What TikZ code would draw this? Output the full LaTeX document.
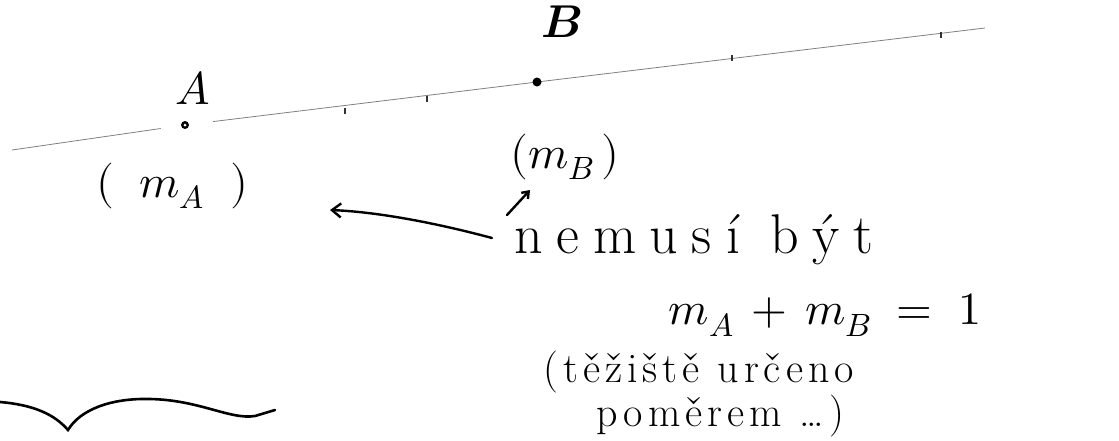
\documentclass[tikz,border=0pt]{standalone}
\usepackage{fontspec}
\usepackage{unicode-math}
\setmathfont{Latin Modern Math}
\newfontfamily\wideface[LetterSpace=25]{Latin Modern Roman}
\newfontfamily\spacedface[LetterSpace=12]{Latin Modern Roman}
\usetikzlibrary{arrows.meta,calc}
\tikzset{
  hand/.style={font=\fontsize{46}{50}\selectfont, inner sep=0pt},
  handwide/.style={font=\wideface\fontsize{56}{60}\selectfont, inner sep=0pt},
  handsmall/.style={font=\spacedface\fontsize{42}{46}\selectfont, inner sep=0pt},
  axisline/.style={draw=black!50, line width=0.8pt},
  tickmark/.style={draw=black!80, line width=1.2pt},
  pen/.style={draw=black, line width=2.4pt, line cap=round},
}
\begin{document}
\begin{tikzpicture}[x=1pt,y=-1pt]
\useasboundingbox (0,0) rectangle (1119,440);
% points on the line
\coordinate (lineL) at (12,150);
\coordinate (dotA) at (185,125);
\coordinate (dotB) at (537,82);
\coordinate (lineR) at (985,28);
\draw[axisline] (lineL) -- ($(lineL)!0.86!(dotA)$);
\draw[axisline] ($(dotA)!0.08!(dotB)$) -- (dotB) -- (lineR);
\fill (dotA) circle (4pt);
\fill[white] (dotA) circle (1.5pt);
\fill (dotB) circle (4.5pt);
% ticks
\foreach \tx/\ty in {345/111, 427/99, 732/58, 941/35}
  \draw[tickmark] (\tx,\ty-3) -- (\tx,\ty+3);
% labels
\node[hand] (nA) at (193,88) {$A$};
\node[hand] (nB) at (562,22) {$\symbfit{B}$};
\node[hand] (massA) at (172,186) {$(\;\;m_A\;\;)$};
\node[hand] (massB) at (565,157) {$(m_B\,)$};
\node[handwide, anchor=west] (note) at (514,240) {nemusí být};
\node[hand] (sumeq) at (825,315) {$m_A \,+\, m_B \;=\; 1$};
\node[handsmall, anchor=west] (ratio1) at (543,372) {(těžiště určeno};
\node[handsmall, anchor=west] (ratio2) at (596,416) {poměrem \dots)};
% arrows
\coordinate (tipL) at (330,210);
\draw[pen, -{Straight Barb[length=9pt,width=14pt]}] (note.west) ++(-22,-2) .. controls (440,224) and (380,212) .. (tipL);
\draw[pen, -{Straight Barb[length=6pt,width=9pt]}] (507,215) -- (530,190);
% brace
\draw[pen, line width=2.6pt] (0,402) .. controls (35,405) and (55,415) .. (68,430)
  .. controls (80,410) and (110,398) .. (150,399)
  .. controls (200,400) and (230,420) .. (255,416) -- (275,410);
\end{tikzpicture}
\end{document}
